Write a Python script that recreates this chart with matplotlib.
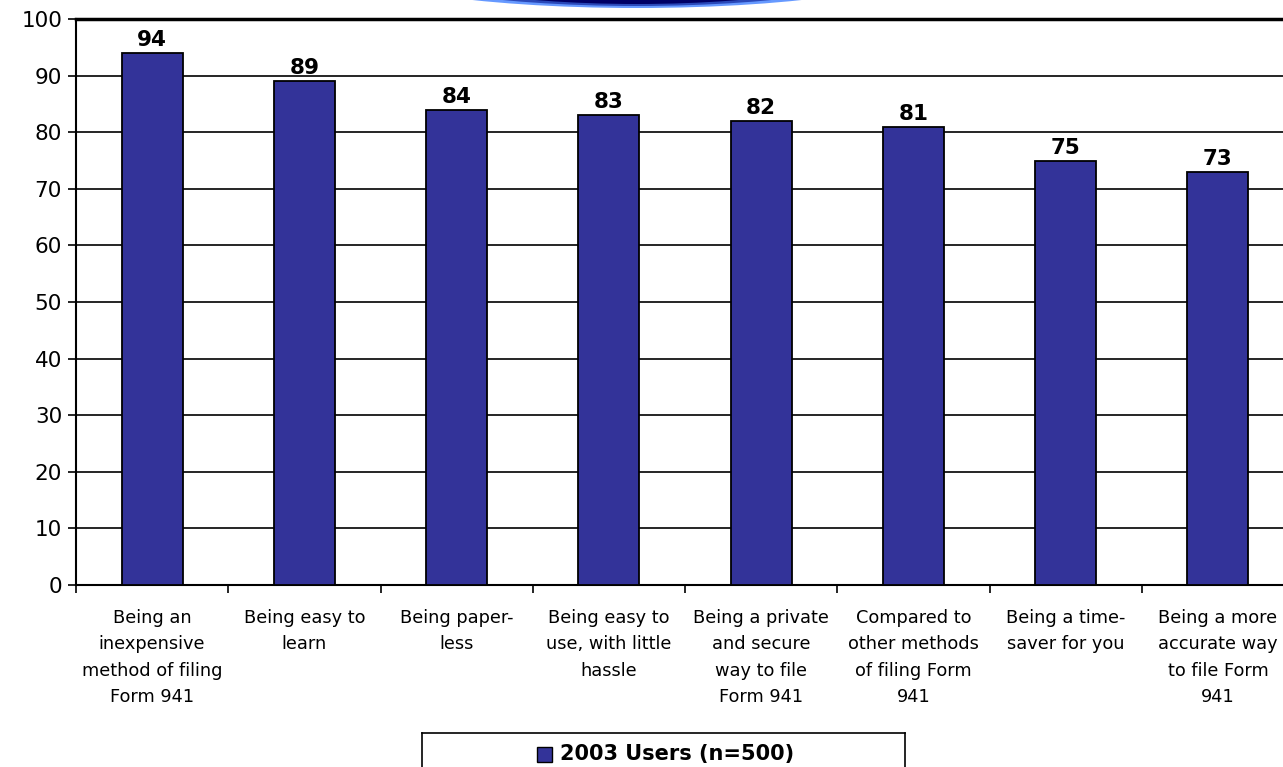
import numpy as np
import matplotlib.pyplot as plt
from matplotlib.patches import Ellipse

# ---------------- data ----------------
categories = [
    "Being an\ninexpensive\nmethod of filing\nForm 941",
    "Being easy to\nlearn",
    "Being paper-\nless",
    "Being easy to\nuse, with little\nhassle",
    "Being a private\nand secure\nway to file\nForm 941",
    "Compared to\nother methods\nof filing Form\n941",
    "Being a time-\nsaver for you",
    "Being a more\naccurate way\nto file Form\n941",
]
values = [94, 89, 84, 83, 82, 81, 75, 73]
series_name = "2003 Users (n=500)"
yticks = list(range(0, 101, 10))

W, H = 1283, 767
fig = plt.figure(figsize=(W / 100, H / 100), dpi=100)

# axes: left edge at x=76px, spans 8 slots of ~152.5px (runs past right edge)
left, right = 76 / W, (74 + 8 * 152.5) / W
bottom, top = 1 - 585 / H, 1 - 19 / H
ax = fig.add_axes([left, bottom, right - left, top - bottom])

x = np.arange(len(values))
ax.bar(x, values, width=0.4, color="#333399", edgecolor="black", linewidth=1.3, zorder=3)

for xi, v in zip(x, values):
    ax.text(xi, v + 0.5, str(v), ha="center", va="bottom", fontsize=15.5,
            fontweight="bold", zorder=4)

ax.set_xlim(-0.5, len(values) - 0.5)
ax.set_ylim(0, 100)
ax.set_yticks(yticks)
ax.set_yticklabels([str(t) for t in yticks], fontsize=15.5)
ax.yaxis.grid(True, color="black", linewidth=1.2, zorder=0)
ax.tick_params(axis="y", length=6, width=1.2, direction="out", pad=4)

# category labels centered in slots, ticks at slot boundaries
ax.set_xticks(np.arange(len(values) + 1) - 0.5)
ax.set_xticklabels([])
ax.tick_params(axis="x", length=6, width=1.2, direction="out")
for xi, lab in zip(x, categories):
    ax.text(xi, -4.2, lab, ha="center", va="top", fontsize=12.8, linespacing=1.6)

for s in ["top", "right"]:
    ax.spines[s].set_visible(False)
ax.spines["left"].set_linewidth(1.5)
ax.spines["bottom"].set_linewidth(1.5)
ax.axhline(100, color="black", linewidth=2.5, zorder=5, clip_on=False)

# legend box at bottom, cut off by figure edge
leg_ax = fig.add_axes([422 / W, -0.05, (905 - 422) / W, (767 - 733) / H + 0.05])
leg_ax.set_xticks([])
leg_ax.set_yticks([])
for s in leg_ax.spines.values():
    s.set_linewidth(1.2)
leg_ax.set_xlim(0, 1)
leg_ax.set_ylim(0, 1)
leg_ax.add_patch(plt.Rectangle((115 / 483, 0.60), 15 / 483, 0.21, facecolor="#333399",
                               edgecolor="black", linewidth=1))
leg_ax.text(138 / 483, 0.705, series_name, ha="left", va="center", fontsize=15,
            fontweight="bold")

# partial title oval peeking in at the top
for w, h, c in [(597, 96, "#6699ff"), (546, 92, "#2a48b8"), (490, 88, "#000066")]:
    fig.patches.append(Ellipse((637 / W, 1 + 40 / H), w / W, h / H,
                               transform=fig.transFigure, facecolor=c,
                               edgecolor="none"))

fig.savefig("out.png", dpi=100)
